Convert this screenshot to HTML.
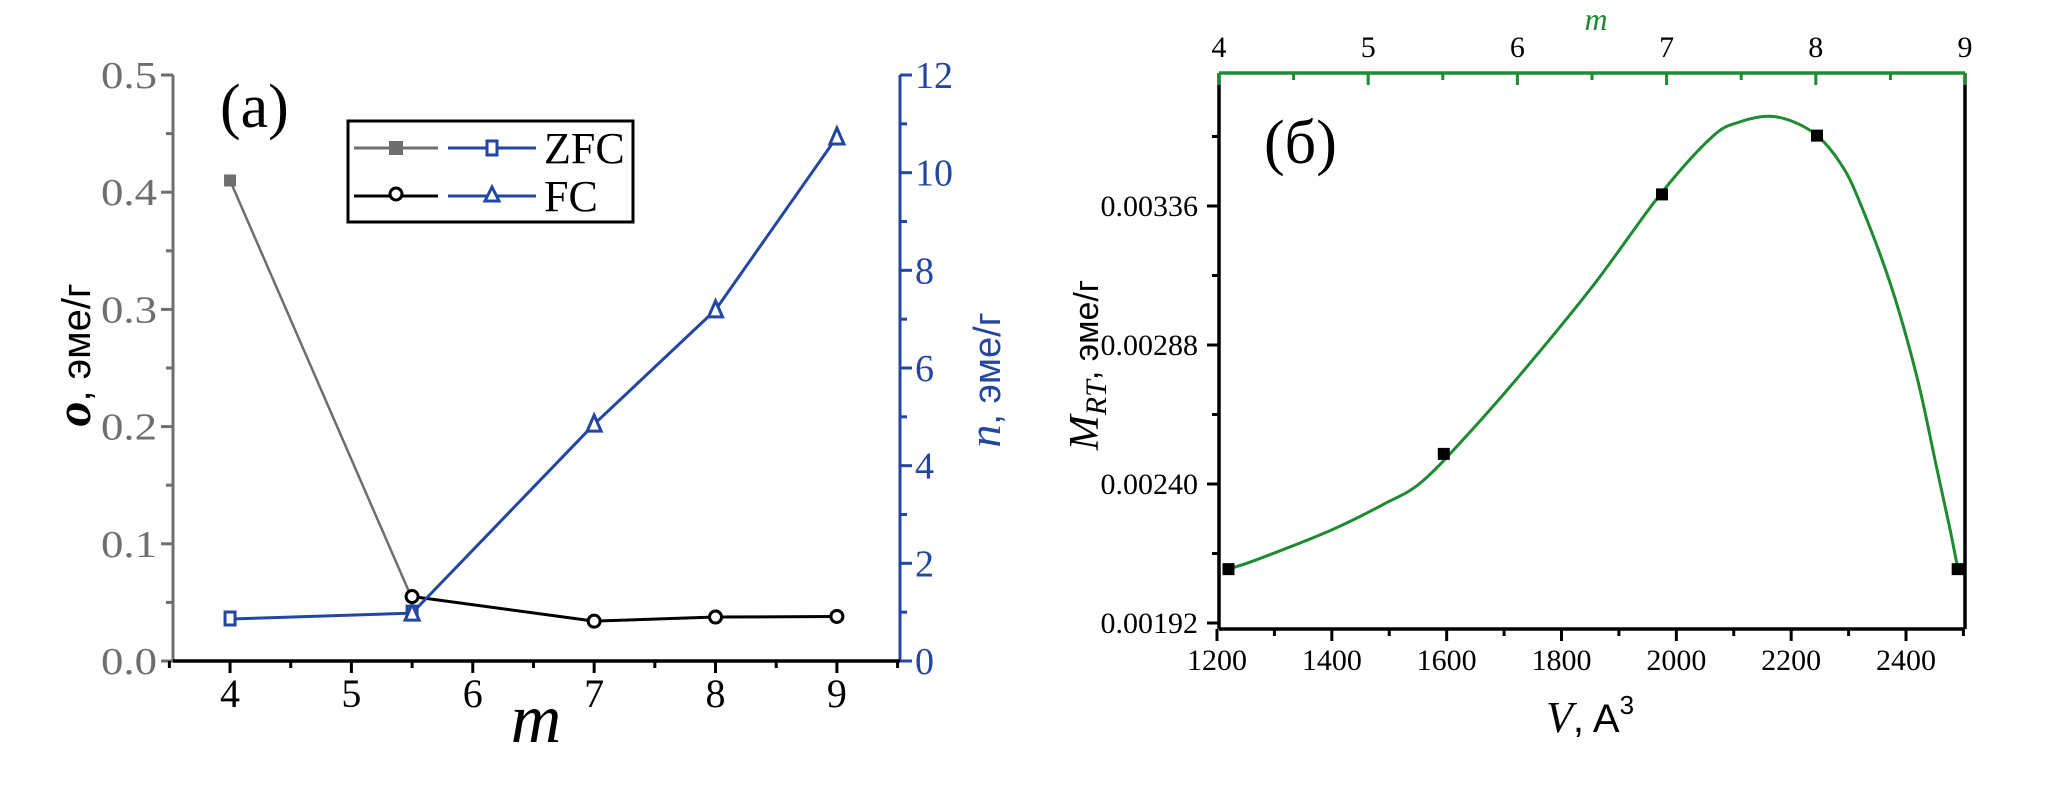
<!DOCTYPE html>
<html><head><meta charset="utf-8"><style>
html,body{margin:0;padding:0;background:#fff;}
svg{display:block;font-family:"Liberation Serif","Noto Serif CJK SC",serif;}
</style></head><body>
<svg id="fig" width="2058" height="793" viewBox="0 0 2058 793" xmlns="http://www.w3.org/2000/svg">
<g id="chartA"></g>
<g id="chartB"></g>
</svg>
<script>
// ---- Chart (a) data ----
const zfcGrayM = [4, 5.5];
const zfcGrayVal = [0.41, 0.053];
const fcBlackM = [5.5, 7, 8, 9];
const fcBlackVal = [0.055, 0.034, 0.0375, 0.038];
const zfcBlueM = [4, 5.5];
const zfcBlueVal = [0.86, 0.98];
const fcBlueM = [5.5, 7, 8, 9];
const fcBlueVal = [0.98, 4.85, 7.19, 10.73];
const aXTicks = [4, 5, 6, 7, 8, 9];
const aLeftTicks = [0.0, 0.1, 0.2, 0.3, 0.4, 0.5];
const aRightTicks = [0, 2, 4, 6, 8, 10, 12];

// ---- Chart (b) data ----
const curveV = [1220,1271,1398,1490,1558,1650,1742,1857,1972,2063,2110,2161,2205,2247,2285,2316,2373,2419,2453,2476,2490];
const curveM = [0.002106,0.00214,0.00224,0.00233,0.00241,0.00260,0.00281,0.00309,0.00340,0.00360,0.00365,0.00367,0.00365,0.00360,0.00351,0.00339,0.00309,0.00277,0.00246,0.00225,0.00211];
const pointV = [1220, 1595, 1975, 2245, 2490];
const pointM = [0.002106, 0.002504, 0.00340, 0.003603, 0.002106];
const bXTicks = [1200,1400,1600,1800,2000,2200,2400];
const bYTicks = [0.00192,0.00240,0.00288,0.00336];
const bTopTicks = [4,5,6,7,8,9];

const NS = "http://www.w3.org/2000/svg";
function mk(parent, tag, attrs, text){
  const e = document.createElementNS(NS, tag);
  for (const k in attrs) e.setAttribute(k, attrs[k]);
  if (text !== undefined) e.textContent = text;
  parent.appendChild(e);
  return e;
}
function poly(parent, xs, ys, fx, fy, color, name, w){
  const pts = xs.map((x,i)=>fx(x)+','+fy(ys[i])).join(' ');
  const p = mk(parent,'polyline',{points:pts,fill:'none',stroke:color,'stroke-width':w||3,'stroke-linejoin':'round'});
  
  
}
function smooth(parent, xs, ys, fx, fy, color, name, w){
  const P = xs.map((x,i)=>[fx(x), fy(ys[i])]);
  let d = 'M' + P[0][0] + ',' + P[0][1];
  for (let i = 0; i < P.length - 1; i++) {
    const p0 = P[Math.max(0,i-1)], p1 = P[i], p2 = P[i+1], p3 = P[Math.min(P.length-1,i+2)];
    const c1 = [p1[0] + (p2[0]-p0[0])/6, p1[1] + (p2[1]-p0[1])/6];
    const c2 = [p2[0] - (p3[0]-p1[0])/6, p2[1] - (p3[1]-p1[1])/6];
    d += ` C${c1[0]},${c1[1]} ${c2[0]},${c2[1]} ${p2[0]},${p2[1]}`;
  }
  const p = mk(parent,'path',{d:d,fill:'none',stroke:color,'stroke-width':w||3});
  
  
}

// ===== Chart (a) =====
const A = document.getElementById('chartA');
const AL = 173, AR = 900, AT = 75, AB = 661;
const ax = m => AL + (m - 3.53) * (AR - AL) / (9.52 - 3.53);
const ayL = v => AB - v * (AB - AT) / 0.5;
const ayR = v => AB - v * (AB - AT) / 12;
const GRAY = '#6e6e6e', BLUE = '#2346a0';
let e;
e = mk(A,'line',{x1:AL,y1:AT,x2:AL,y2:AB,stroke:GRAY,'stroke-width':3});
 
e = mk(A,'line',{x1:AR,y1:AT,x2:AR,y2:AB,stroke:BLUE,'stroke-width':3});
 
e = mk(A,'line',{x1:AL,y1:AB,x2:AR,y2:AB,stroke:'#000','stroke-width':3.5});
 

for (let i = 0; i <= 10; i++) {
  const y = ayL(i * 0.05), major = i % 2 === 0;
  mk(A,'line',{x1:AL-(major?12:7),y1:y,x2:AL,y2:y,stroke:GRAY,'stroke-width':3});
}
aLeftTicks.forEach(v => {
  e = mk(A,'text',{x:AL-16,y:ayL(v)+13,'text-anchor':'end','font-size':38,fill:GRAY,textLength:56,lengthAdjust:'spacingAndGlyphs'},v.toFixed(1));
   
});
for (let i = 0; i <= 12; i++) {
  const y = ayR(i), major = i % 2 === 0;
  mk(A,'line',{x1:AR,y1:y,x2:AR+(major?12:7),y2:y,stroke:BLUE,'stroke-width':3});
}
aRightTicks.forEach(v => {
  e = mk(A,'text',{x:AR+15,y:ayR(v)+13,'font-size':38,fill:BLUE},String(v));
   
});
for (let m = 3.5; m <= 9.5; m += 0.5) {
  const major = Number.isInteger(m);
  mk(A,'line',{x1:ax(m),y1:AB,x2:ax(m),y2:AB+(major?12:7),stroke:'#000','stroke-width':3});
}
aXTicks.forEach(m => {
  e = mk(A,'text',{x:ax(m),y:707,'text-anchor':'middle','font-size':40,fill:'#000'},String(m));
   
});

poly(A, zfcGrayM, zfcGrayVal, ax, ayL, GRAY, 'zfc-sigma-line', 2.5);
poly(A, fcBlackM, fcBlackVal, ax, ayL, '#000', 'fc-sigma-line', 3);
poly(A, zfcBlueM, zfcBlueVal, ax, ayR, BLUE, 'zfc-n-line', 3);
poly(A, fcBlueM, fcBlueVal, ax, ayR, BLUE, 'fc-n-line', 3);

zfcGrayM.forEach((m,i)=>{
  if (i===1) return;
  e = mk(A,'rect',{x:ax(m)-6,y:ayL(zfcGrayVal[i])-6,width:12,height:12,fill:GRAY});
   
});
zfcBlueM.forEach((m,i)=>{
  e = mk(A,'rect',{x:ax(m)-5,y:ayR(zfcBlueVal[i])-7,width:10,height:13,fill:'#fff',stroke:BLUE,'stroke-width':3});
   
});
fcBlueM.forEach((m,i)=>{
  const x = ax(m), y = ayR(fcBlueVal[i]);
  e = mk(A,'polygon',{points:`${x},${y-9} ${x-7},${y+7} ${x+7},${y+7}`,fill:'#fff',stroke:BLUE,'stroke-width':3});
   
});
fcBlackM.forEach((m,i)=>{
  e = mk(A,'ellipse',{cx:ax(m),cy:ayL(fcBlackVal[i]),rx:6,ry:6,fill:'#fff',stroke:'#000','stroke-width':3});
   
});

e = mk(A,'text',{x:220,y:127,'font-size':62,fill:'#000'},'(a)');
 
e = mk(A,'text',{x:536,y:742,'font-size':70,'font-style':'italic','text-anchor':'middle',fill:'#000'},'m');
 
e = mk(A,'text',{x:0,y:0,'font-size':40,fill:'#000','text-anchor':'middle',transform:'translate(90,355) rotate(-90)','font-family':'Liberation Sans, sans-serif'});
e.innerHTML = '<tspan font-style="italic" font-weight="bold" font-family="Liberation Serif, serif" font-size="50">о</tspan>, эме/г';
 
e = mk(A,'text',{x:0,y:0,'font-size':38,fill:BLUE,'text-anchor':'middle',transform:'translate(1000,380) rotate(-90)','font-family':'Liberation Sans, sans-serif'});
e.innerHTML = '<tspan font-style="italic" font-family="Liberation Serif, serif" font-size="46">n</tspan>, эме/г';
 

// legend
const L = mk(A,'g',{});
 
mk(L,'rect',{x:348,y:121,width:285,height:101,fill:'#fff',stroke:'#000','stroke-width':3});
mk(L,'line',{x1:354,y1:148,x2:438,y2:148,stroke:GRAY,'stroke-width':3});
mk(L,'rect',{x:389,y:141,width:14,height:14,fill:GRAY});
mk(L,'line',{x1:448,y1:148,x2:536,y2:148,stroke:BLUE,'stroke-width':3});
mk(L,'rect',{x:487,y:141,width:10,height:14,fill:'#fff',stroke:BLUE,'stroke-width':3});
e = mk(L,'text',{x:544,y:163,'font-size':44},'ZFC');
 
mk(L,'line',{x1:354,y1:196,x2:438,y2:196,stroke:'#000','stroke-width':3});
mk(L,'ellipse',{cx:396,cy:194,rx:6,ry:6,fill:'#fff',stroke:'#000','stroke-width':3});
mk(L,'line',{x1:448,y1:196,x2:536,y2:196,stroke:BLUE,'stroke-width':3});
mk(L,'polygon',{points:'492,187 485,201 499,201',fill:'#fff',stroke:BLUE,'stroke-width':3});
e = mk(L,'text',{x:544,y:211,'font-size':44},'FC');
 

// ===== Chart (b) =====
const B = document.getElementById('chartB');
const GREEN = '#1e8a32';
const L0 = 1219, R0 = 1965, T0 = 73, B0 = 629;
const bx = v => 1217 + (v - 1200) * (1906 - 1217) / 1200;
const by = v => 623 - (v - 0.00192) * 139 / 0.00048;
const bm = m => L0 + (m - 4) * (R0 - L0) / 5;

e = mk(B,'line',{x1:L0,y1:T0,x2:L0,y2:B0,stroke:'#000','stroke-width':3.5});
 
e = mk(B,'line',{x1:R0,y1:T0,x2:R0,y2:B0,stroke:'#000','stroke-width':3.5});
 
e = mk(B,'line',{x1:L0,y1:B0,x2:R0,y2:B0,stroke:'#000','stroke-width':3.5});
 
e = mk(B,'line',{x1:L0,y1:T0,x2:R0,y2:T0,stroke:GREEN,'stroke-width':3.5});
 

for (let v = 1200; v <= 2500; v += 100) {
  const major = v % 200 === 0;
  mk(B,'line',{x1:bx(v),y1:B0,x2:bx(v),y2:B0+(major?12:7),stroke:'#000','stroke-width':3});
}
bXTicks.forEach(v=>{
  e = mk(B,'text',{x:bx(v),y:670,'text-anchor':'middle','font-size':30},String(v));
   
});
for (let k = 0; k < 9; k++) {
  const v = 0.00192 + k * 0.00024;
  if (by(v) < T0) break;
  const major = k % 2 === 0;
  mk(B,'line',{x1:L0-(major?12:7),y1:by(v),x2:L0,y2:by(v),stroke:'#000','stroke-width':3});
}
bYTicks.forEach(v=>{
  e = mk(B,'text',{x:1198,y:by(v)+10,'text-anchor':'end','font-size':30},v.toFixed(5));
   
});
for (let m = 4; m <= 9; m += 0.5) {
  const major = Number.isInteger(m);
  mk(B,'line',{x1:bm(m),y1:T0,x2:bm(m),y2:T0+(major?12:7),stroke:GREEN,'stroke-width':3});
}
bTopTicks.forEach(m=>{
  e = mk(B,'text',{x:bm(m),y:57,'text-anchor':'middle','font-size':30},String(m));
   
});

smooth(B, curveV, curveM, bx, by, GREEN, 'mrt-curve', 3);
pointV.forEach((v,i)=>{
  e = mk(B,'rect',{x:bx(v)-6,y:by(pointM[i])-6,width:12,height:12,fill:'#000'});
   
});

e = mk(B,'text',{x:1264,y:163,'font-size':62},'(б)');
 
e = mk(B,'text',{x:1596,y:30,'font-size':32,'font-style':'italic','text-anchor':'middle',fill:GREEN},'m');
 
e = mk(B,'text',{x:0,y:0,'font-size':34,'text-anchor':'middle',transform:'translate(1098,365) rotate(-90)','font-family':'Liberation Sans, sans-serif'});
e.innerHTML = '<tspan font-style="italic" font-family="Liberation Serif, serif" font-size="42">M</tspan><tspan font-style="italic" font-family="Liberation Serif, serif" font-size="30" dy="8">RT</tspan><tspan dy="-8">, эме/г</tspan>';
 
e = mk(B,'text',{x:1590,y:732,'font-size':40,'text-anchor':'middle','font-family':'Liberation Sans, sans-serif'});
e.innerHTML = '<tspan font-style="italic" font-family="Liberation Serif, serif" font-size="44">V</tspan>, A<tspan font-size="26" dy="-18">3</tspan>';
 
</script>
</body></html>
